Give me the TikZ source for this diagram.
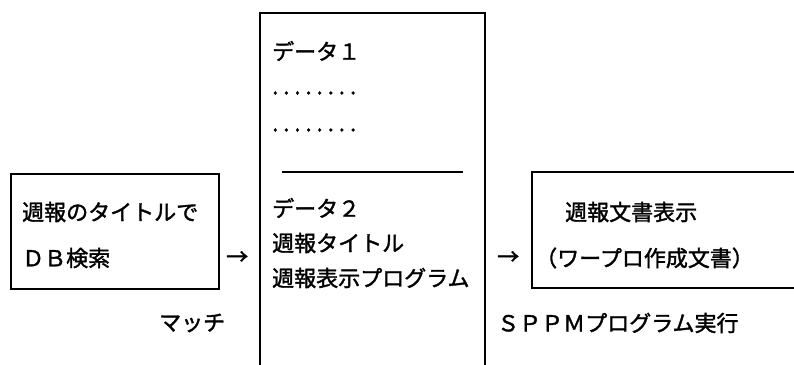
\documentclass[tikz,border=0pt]{standalone}
\usepackage{fontspec}
\setmainfont{Noto Sans CJK JP}[FakeBold=1.6]
\begin{document}
\begin{tikzpicture}[x=1pt,y=-1pt,
  boxline/.style={line width=2pt, line cap=rect},
  txt/.style={anchor=west, inner sep=0pt, font=\fontsize{22}{26}\selectfont},
  divline/.style={line width=1.4pt}]
\useasboundingbox (0,0) rectangle (794,364);
% left box
\node[draw, line width=2pt, minimum width=208pt, minimum height=115pt, anchor=north west, inner sep=0pt] (lb) at (10,173) {};
% middle box (open at bottom)
\coordinate (m1) at (260,364);
\coordinate (m2) at (260,13);
\coordinate (m3) at (485,13);
\coordinate (m4) at (485,364);
\draw[boxline] (m1) -- (m2) -- (m3) -- (m4);
% divider
\coordinate (d1) at (282,172);
\coordinate (d2) at (463,172);
\draw[divline] (d1) -- (d2);
% right box (open at right)
\coordinate (r1) at (794,172);
\coordinate (r2) at (532,172);
\coordinate (r3) at (532,288);
\coordinate (r4) at (794,288);
\draw[boxline] (r1) -- (r2) -- (r3) -- (r4);
% texts left
\node[txt] (l1) at (22,212) {週報のタイトルで};
\node[txt] (l2) at (22,258) {ＤＢ検索};
% middle texts
\node[txt] (t1) at (272,51) {データ１};
\node[txt] (t2) at (272,93) {.\kern5pt.\kern5pt.\kern5pt.\kern5pt.\kern5pt.\kern5pt.\kern5pt.};
\node[txt] (t3) at (272,130) {.\kern5pt.\kern5pt.\kern5pt.\kern5pt.\kern5pt.\kern5pt.\kern5pt.};
\node[txt] (t4) at (272,208) {データ２};
\node[txt] (t5) at (272,243) {週報タイトル};
\node[txt] (t6) at (272,278) {週報表示プログラム};
% right texts
\node[txt] (r5) at (565,212) {週報文書表示};
\node[txt] (r6) at (535,258) {（ワープロ作成文書）};
% arrows
\node[txt] (a1) at (226,258) {→};
\node[txt] (a2) at (497,258) {→};
% bottom labels
\node[txt] (b1) at (159,323) {マッチ};
\node[txt] (b2) at (497,323) {ＳＰＰＭプログラム実行};
\end{tikzpicture}
\end{document}
